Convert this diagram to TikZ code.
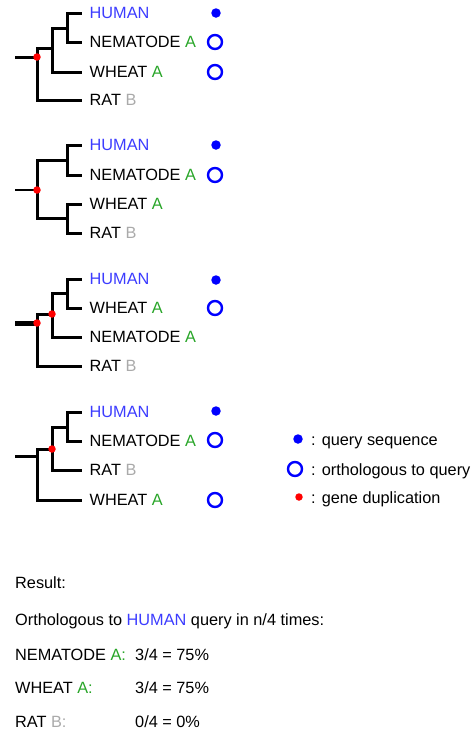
\documentclass[tikz,border=0pt]{standalone}
\usepackage{fontspec}
\setmainfont{Liberation Sans}
\definecolor{qblue}{RGB}{60,60,255}
\definecolor{agreen}{RGB}{40,165,40}
\definecolor{bgray}{RGB}{170,170,170}
\definecolor{markblue}{RGB}{0,0,255}
\definecolor{dupred}{RGB}{255,0,0}
\begin{document}
\begin{tikzpicture}[x=1pt,y=-1pt,
  txt/.style={font=\fontsize{16.3}{19}\selectfont, text=black},
  leaf/.style={txt, anchor=west, inner xsep=7.5pt, inner ysep=0pt},
  line/.style={txt, anchor=base west, inner sep=0pt},
  branch/.style={line width=3pt, line join=miter},
  query/.style={circle, fill=markblue, inner sep=0pt, minimum size=9.5pt},
  ortho/.style={circle, draw=markblue, line width=2.4pt, inner sep=0pt, minimum size=14pt},
  dup/.style={circle, fill=dupred, inner sep=0pt, minimum size=7.5pt}]
\useasboundingbox (0,0) rectangle (471,732);

\newcommand{\Hu}{\textcolor{qblue}{HUMAN}}
\newcommand{\GA}{\textcolor{agreen}{A}}
\newcommand{\GB}{\textcolor{bgray}{B}}

% ---------- tree 1 ----------
\coordinate (t1s) at (15,57);
\coordinate (t1r) at (37,57);
\coordinate (t1a) at (52,48);
\coordinate (t1b) at (67,28);
\node[leaf] (t1hu) at (82,13) {\Hu};
\node[leaf] (t1ne) at (82,42) {NEMATODE \GA};
\node[leaf] (t1wh) at (82,72) {WHEAT \GA};
\node[leaf] (t1ra) at (82,100) {RAT \GB};
\draw[branch] (t1s) -- (t1r);
\draw[branch] (t1r) |- (t1a);
\draw[branch] (t1r) |- (t1ra.west);
\draw[branch] (t1a) |- (t1b);
\draw[branch] (t1a) |- (t1wh.west);
\draw[branch] (t1b) |- (t1hu.west);
\draw[branch] (t1b) |- (t1ne.west);
\node[dup] (t1d) at (t1r) {};
\node[query] (t1q) at (216,13) {};
\node[ortho] (t1o1) at (215,42) {};
\node[ortho] (t1o2) at (215,72) {};

% ---------- tree 2 ----------
\coordinate (t2s) at (15,190);
\coordinate (t2r) at (37,190);
\coordinate (t2a) at (67,160);
\coordinate (t2b) at (67,218);
\node[leaf] (t2hu) at (82,145) {\Hu};
\node[leaf] (t2ne) at (82,175) {NEMATODE \GA};
\node[leaf] (t2wh) at (82,204) {WHEAT \GA};
\node[leaf] (t2ra) at (82,233) {RAT \GB};
\draw[line width=1.6pt] (t2s) -- (t2r);
\draw[branch] (t2r) |- (t2a);
\draw[branch] (t2r) |- (t2b);
\draw[branch] (t2a) |- (t2hu.west);
\draw[branch] (t2a) |- (t2ne.west);
\draw[branch] (t2b) |- (t2wh.west);
\draw[branch] (t2b) |- (t2ra.west);
\node[dup] (t2d) at (t2r) {};
\node[query] (t2q) at (216,145) {};
\node[ortho] (t2o1) at (215,175) {};

% ---------- tree 3 ----------
\coordinate (t3s) at (15,323);
\coordinate (t3r) at (37,323);
\coordinate (t3a) at (52,314);
\coordinate (t3b) at (67,293);
\node[leaf] (t3hu) at (82,279) {\Hu};
\node[leaf] (t3wh) at (82,308) {WHEAT \GA};
\node[leaf] (t3ne) at (82,337) {NEMATODE \GA};
\node[leaf] (t3ra) at (82,366) {RAT \GB};
\draw[line width=5pt] (t3s) -- (t3r);
\draw[branch] (t3r) |- (t3a);
\draw[branch] (t3r) |- (t3ra.west);
\draw[branch] (t3a) |- (t3b);
\draw[branch] (t3a) |- (t3ne.west);
\draw[branch] (t3b) |- (t3hu.west);
\draw[branch] (t3b) |- (t3wh.west);
\node[dup] (t3d1) at (t3r) {};
\node[dup] (t3d2) at (t3a) {};
\node[query] (t3q) at (216,280) {};
\node[ortho] (t3o1) at (215,308) {};

% ---------- tree 4 ----------
\coordinate (t4s) at (15,456);
\coordinate (t4r) at (37,456);
\coordinate (t4a) at (52,449);
\coordinate (t4b) at (67,427);
\node[leaf] (t4hu) at (82,412) {\Hu};
\node[leaf] (t4ne) at (82,441) {NEMATODE \GA};
\node[leaf] (t4ra) at (82,470) {RAT \GB};
\node[leaf] (t4wh) at (82,500) {WHEAT \GA};
\draw[branch] (t4s) -- (t4r);
\draw[branch] (t4r) |- (t4a);
\draw[branch] (t4r) |- (t4wh.west);
\draw[branch] (t4a) |- (t4b);
\draw[branch] (t4a) |- (t4ra.west);
\draw[branch] (t4b) |- (t4hu.west);
\draw[branch] (t4b) |- (t4ne.west);
\node[dup] (t4d) at (t4a) {};
\node[query] (t4q) at (216,411) {};
\node[ortho] (t4o1) at (215,440) {};
\node[ortho] (t4o2) at (215,500) {};

% ---------- legend ----------
\node[query] (lgq) at (298,439) {};
\node[ortho] (lgo) at (295,469) {};
\node[dup] (lgd) at (299,497) {};
\node[line] (lgqt) at (311,445) {: query sequence};
\node[line] (lgot) at (311,475) {: orthologous to query};
\node[line] (lgdt) at (311,503) {: gene duplication};

% ---------- result ----------
\node[line] (res) at (15,588) {Result:};
\node[line] (resh) at (15,625) {Orthologous to \Hu{} query in n/4 times:};
\node[line] (rne) at (15,660) {NEMATODE \textcolor{agreen}{A:}};
\node[line] (rwh) at (15,693) {WHEAT \textcolor{agreen}{A:}};
\node[line] (rra) at (15,727) {RAT \textcolor{bgray}{B:}};
\node[line] (rnev) at (135,660) {3/4 = 75\%};
\node[line] (rwhv) at (135,693) {3/4 = 75\%};
\node[line] (rrav) at (135,727) {0/4 = 0\%};
\end{tikzpicture}
\end{document}
